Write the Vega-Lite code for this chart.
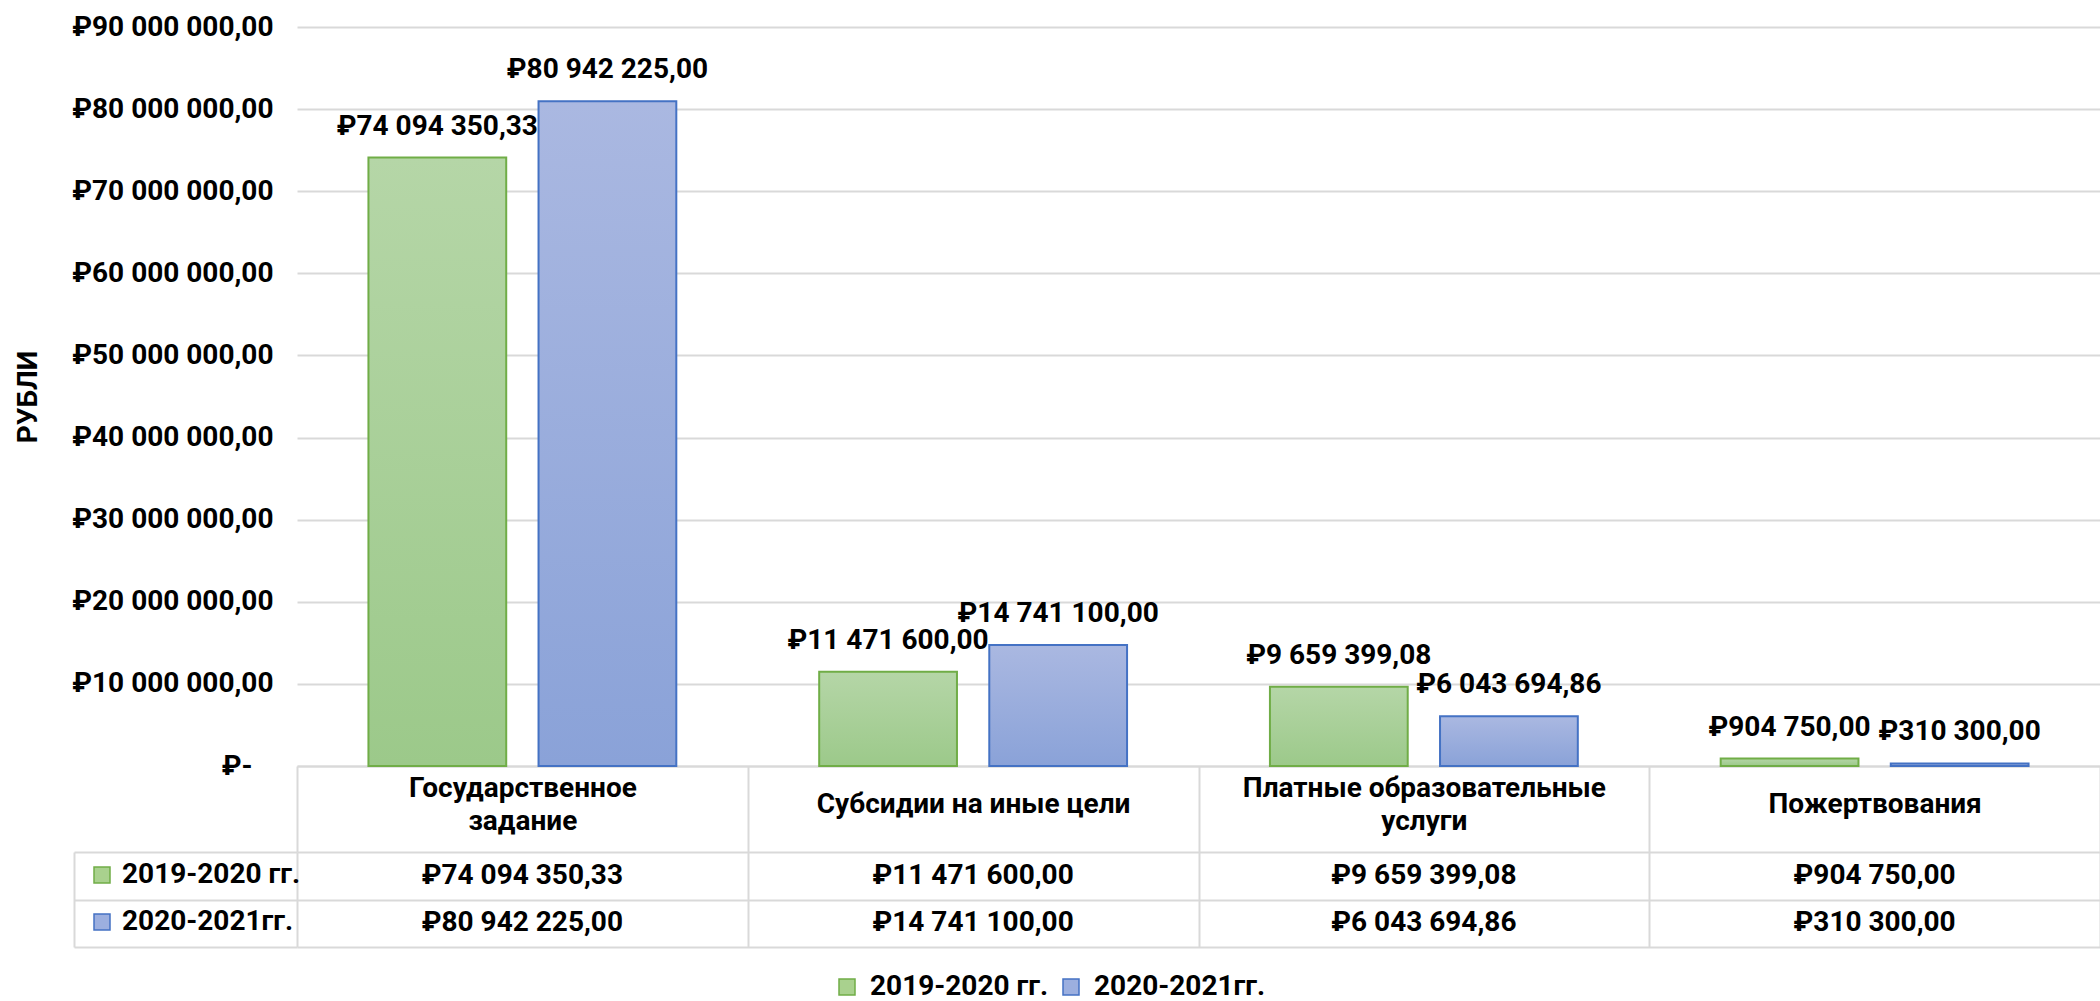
{
  "$schema": "https://vega.github.io/schema/vega-lite/v6.json",
  "padding": {"left": 14, "top": 13, "right": 0, "bottom": 0},
  "config": {
    "locale": {"number": {"decimal": ",", "thousands": " ", "grouping": [3], "currency": ["₽", ""]}},
    "view": {"stroke": null},
    "font": "Roboto",
    "axis": {"labelFont": "Roboto", "labelFontWeight": "bold", "labelFontSize": 28, "labelColor": "#000000", "titleFont": "Roboto", "titleFontWeight": "bold", "titleFontSize": 28, "titleColor": "#000000", "labelLimit": 0},
    "legend": {"title": null, "symbolType": "square", "symbolSize": 256, "symbolStrokeWidth": 1.5, "labelFont": "Roboto", "labelFontWeight": "bold", "labelFontSize": 28, "labelColor": "#000000", "labelLimit": 0}
  },
  "datasets": {
    "d": [
      {"category": "Государственное задание", "series": "2019-2020 гг.", "value": 74094350.33},
      {"category": "Государственное задание", "series": "2020-2021гг.", "value": 80942225.00},
      {"category": "Субсидии на иные цели", "series": "2019-2020 гг.", "value": 11471600.00},
      {"category": "Субсидии на иные цели", "series": "2020-2021гг.", "value": 14741100.00},
      {"category": "Платные образовательные услуги", "series": "2019-2020 гг.", "value": 9659399.08},
      {"category": "Платные образовательные услуги", "series": "2020-2021гг.", "value": 6043694.86},
      {"category": "Пожертвования", "series": "2019-2020 гг.", "value": 904750.00},
      {"category": "Пожертвования", "series": "2020-2021гг.", "value": 310300.00}
    ]
  },
  "spacing": 86,
  "bounds": "flush",
  "resolve": {
    "scale": {"x": "independent", "y": "independent", "xOffset": "independent", "color": "independent", "stroke": "independent"},
    "axis": {"x": "independent", "y": "independent"},
    "legend": {"color": "independent", "stroke": "independent"}
  },
  "vconcat": [
    {
      "width": 1803,
      "height": 739,
      "data": {"name": "d"},
      "encoding": {
        "x": {
          "field": "category", "type": "nominal",
          "sort": ["Государственное задание", "Субсидии на иные цели", "Платные образовательные услуги", "Пожертвования"],
          "scale": {"type": "band", "paddingInner": 0, "paddingOuter": 0},
          "axis": {
            "title": null, "labelAngle": 0, "tickBand": "extent", "ticks": true, "tickSize": 86,
            "tickColor": "#d9d9d9", "tickWidth": 2, "domain": true, "domainColor": "#d9d9d9", "domainWidth": 2,
            "labelPadding": -48, "labelLineHeight": 33, "labelLimit": 0, "labelOverlap": false,
            "labelBaseline": {"condition": {"test": "datum.value === 'Государственное задание' || datum.value === 'Платные образовательные услуги'", "value": "line-bottom"}, "value": "middle"},
            "labelExpr": "datum.value === 'Государственное задание' ? ['Государственное', 'задание'] : datum.value === 'Платные образовательные услуги' ? ['Платные образовательные', 'услуги'] : datum.value"
          }
        },
        "xOffset": {
          "field": "series", "type": "nominal", "sort": ["2019-2020 гг.", "2020-2021гг."],
          "scale": {"type": "band", "paddingInner": 0.19, "paddingOuter": 0.42}
        },
        "y": {
          "field": "value", "type": "quantitative",
          "scale": {"domain": [0, 90000000], "nice": false, "zero": true},
          "axis": {
            "values": [0, 10000000, 20000000, 30000000, 40000000, 50000000, 60000000, 70000000, 80000000, 90000000],
            "format": "$,.2f",
            "labelExpr": "datum.value === 0 ? '₽-\u2800' : datum.label",
            "grid": true, "gridColor": "#d9d9d9", "gridWidth": 2, "domain": false, "ticks": false,
            "labelPadding": 24, "labelBaseline": "middle", "labelLimit": 0,
            "title": "РУБЛИ", "titleX": -261, "titleY": 369.5, "titleBaseline": "alphabetic", "titleAngle": -90, "titleAlign": "center"
          }
        }
      },
      "layer": [
        {
          "transform": [{"filter": "false"}],
          "mark": {"type": "bar"},
          "encoding": {
            "color": {
              "field": "series", "type": "nominal",
              "scale": {"domain": ["2019-2020 гг.", "2020-2021гг."], "range": ["#a9d18e", "#9cafdf"]},
              "legend": {"orient": "none", "legendX": 536, "legendY": 946, "direction": "horizontal", "labelOffset": 9, "columnPadding": 8}
            },
            "stroke": {
              "field": "series", "type": "nominal",
              "scale": {"domain": ["2019-2020 гг.", "2020-2021гг."], "range": ["#70ad47", "#4472c4"]},
              "legend": {"orient": "none", "legendX": 536, "legendY": 946, "direction": "horizontal", "labelOffset": 9, "columnPadding": 8}
            }
          }
        },
        {
          "mark": {"type": "bar", "strokeWidth": 2},
          "encoding": {
            "fill": {
              "condition": {"test": "datum.series === '2019-2020 гг.'", "value": {"gradient": "linear", "x1": 0, "y1": 0, "x2": 0, "y2": 1, "stops": [{"offset": 0, "color": "#b5d6a7"}, {"offset": 1, "color": "#9cc98a"}]}},
              "value": {"gradient": "linear", "x1": 0, "y1": 0, "x2": 0, "y2": 1, "stops": [{"offset": 0, "color": "#aab8e1"}, {"offset": 1, "color": "#8aa2d8"}]}
            },
            "stroke": {"condition": {"test": "datum.series === '2019-2020 гг.'", "value": "#70ad47"}, "value": "#4472c4"}
          }
        },
        {
          "mark": {"type": "text", "font": "Roboto", "fontWeight": "bold", "fontSize": 28, "baseline": "middle", "dy": -31, "color": "#000000"},
          "encoding": {"text": {"field": "value", "type": "quantitative", "format": "$,.2f"}}
        }
      ]
    },
    {
      "width": 1803,
      "height": 95,
      "data": {"name": "d"},
      "encoding": {
        "x": {
          "field": "category", "type": "nominal",
          "sort": ["Государственное задание", "Субсидии на иные цели", "Платные образовательные услуги", "Пожертвования"],
          "scale": {"type": "band", "paddingInner": 0, "paddingOuter": 0},
          "axis": {"orient": "top", "title": null, "labels": false, "ticks": false, "domain": false, "grid": true, "tickBand": "extent", "gridColor": "#d9d9d9", "gridWidth": 2}
        },
        "y": {
          "field": "series", "type": "nominal", "sort": ["2019-2020 гг.", "2020-2021гг."],
          "scale": {"type": "band", "paddingInner": 0, "paddingOuter": 0},
          "axis": {"title": null, "labels": false, "ticks": true, "tickSize": -223, "tickBand": "extent", "tickColor": "#d9d9d9", "tickWidth": 2, "offset": 223, "domain": true, "domainColor": "#d9d9d9", "domainWidth": 2, "grid": true, "gridColor": "#d9d9d9", "gridWidth": 2}
        }
      },
      "layer": [
        {
          "mark": {"type": "text", "font": "Roboto", "fontWeight": "bold", "fontSize": 28, "baseline": "middle", "color": "#000000"},
          "encoding": {"text": {"field": "value", "type": "quantitative", "format": "$,.2f"}}
        },
        {
          "transform": [{"filter": "false"}],
          "mark": {"type": "bar"},
          "encoding": {
            "color": {
              "field": "series", "type": "nominal",
              "scale": {"domain": ["2019-2020 гг.", "2020-2021гг."], "range": ["#a9d18e", "#9cafdf"]},
              "legend": {"orient": "none", "legendX": -209, "legendY": 9, "direction": "vertical", "labelOffset": 6, "rowPadding": 19}
            },
            "stroke": {
              "field": "series", "type": "nominal",
              "scale": {"domain": ["2019-2020 гг.", "2020-2021гг."], "range": ["#70ad47", "#4472c4"]},
              "legend": {"orient": "none", "legendX": -209, "legendY": 9, "direction": "vertical", "labelOffset": 6, "rowPadding": 19}
            }
          }
        }
      ]
    }
  ]
}
